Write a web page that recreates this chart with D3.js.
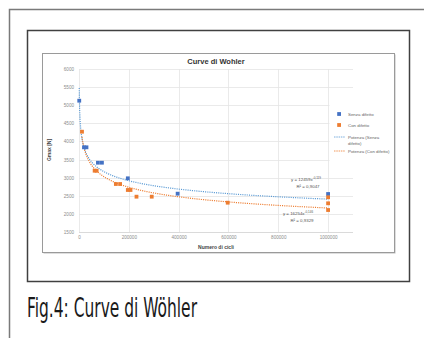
<!DOCTYPE html>
<html><head><meta charset="utf-8">
<script src="https://cdn.jsdelivr.net/npm/d3@7"></script>
<style>body{margin:0;background:#fff}svg{display:block}</style>
</head><body>
<script>
// ---- data ----
const seriesNames = ["Senza difetto", "Con difetto"];
const trendNames = ["Potenza (Senza difetto)", "Potenza (Con difetto)"];
const senzaX = [1000, 20000, 30000, 76000, 92000, 196000, 396000, 1000000];
const senzaY = [5125, 3838, 3838, 3413, 3413, 2982, 2558, 2549];
const conX = [12000, 62800, 70800, 148000, 165000, 196000, 206800, 230800, 292000, 597000, 1000000, 1000000, 1000000];
const conY = [4269, 3192, 3192, 2825, 2825, 2660, 2660, 2475, 2475, 2309, 2458, 2292, 2107];
const trendCoef = [12459, 16254];
const trendExp = [-0.119, -0.146];
const trendR2 = ["0,9047", "0,9329"];
const xTicks = [0, 200000, 400000, 600000, 800000, 1000000];
const yTicks = [1500, 2000, 2500, 3000, 3500, 4000, 4500, 5000, 5500, 6000];
const colors = ["#4472C4", "#ED7D31"];
const trendColors = ["#5B9BD5", "#ED7D31"];

const W = 424, H = 338;
const svg = d3.select("body").append("svg").attr("width", W).attr("height", H);
const font = "'Liberation Sans', Arial, sans-serif";

// outer frame
svg.append("path").attr("d", "M9.5,338 V9.5 H424").attr("fill", "none").attr("stroke", "#7a7a7a").attr("stroke-width", 1.5);
// inner frame
svg.append("rect").attr("x", 27.5).attr("y", 30.5).attr("width", 382).attr("height", 251)
  .attr("fill", "#fff").attr("stroke", "#404040").attr("stroke-width", 1.5);
// chart area with shadow
svg.append("rect").attr("x", 43.5).attr("y", 54.5).attr("width", 352).attr("height", 199).attr("fill", "#bdbdbd");
svg.append("rect").attr("x", 42.5).attr("y", 53.5).attr("width", 352).attr("height", 199)
  .attr("fill", "#fff").attr("stroke", "#9a9a9a").attr("stroke-width", 1);

// caption
svg.append("text").attr("x", 27).attr("y", 317).text("Fig.4: Curve di Wöhler")
  .attr("font-family", "'DejaVu Sans Condensed', 'Liberation Sans Narrow', sans-serif")
  .attr("font-size", 26).attr("fill", "#1a1a1a")
  .attr("textLength", 170).attr("lengthAdjust", "spacingAndGlyphs");

// scales
const x = d3.scaleLinear().domain([0, 1100000]).range([79, 353]);
const y = d3.scaleLinear().domain([1500, 6000]).range([232, 69]);

// gridlines
const g = svg.append("g");
g.selectAll(".hg").data(yTicks).join("line")
  .attr("x1", x(0)).attr("x2", x(1100000)).attr("y1", d => Math.round(y(d)) + 0.5).attr("y2", d => Math.round(y(d)) + 0.5)
  .attr("stroke", d => d === 1500 ? "#d0d0d0" : "#e4e4e4").attr("stroke-width", 0.8);
g.selectAll(".vg").data(xTicks).join("line")
  .attr("y1", y(1500)).attr("y2", y(6000)).attr("x1", d => Math.round(x(d)) + 0.5).attr("x2", d => Math.round(x(d)) + 0.5)
  .attr("stroke", "#e4e4e4").attr("stroke-width", 0.8);

// axes labels via d3 axes
const fmt = d3.format("d");
const xAxis = svg.append("g").attr("transform", `translate(0,${y(1500)})`)
  .call(d3.axisBottom(x).tickValues(xTicks).tickSize(0).tickPadding(4).tickFormat(fmt));
const yAxis = svg.append("g").attr("transform", `translate(${x(0)},0)`)
  .call(d3.axisLeft(y).tickValues(yTicks).tickSize(0).tickPadding(5).tickFormat(fmt));
[xAxis, yAxis].forEach(a => {
  a.select(".domain").remove();
  a.selectAll("text").attr("font-family", font).attr("font-size", 4.6).attr("fill", "#8c8c8c");
});

// title and axis titles
svg.append("text").attr("x", 216).attr("y", 63.5).attr("text-anchor", "middle").text("Curve di Wohler")
  .attr("font-family", font).attr("font-size", 7.5).attr("font-weight", "bold").attr("fill", "#333");
svg.append("text").attr("x", 216).attr("y", 249).attr("text-anchor", "middle").text("Numero di cicli")
  .attr("font-family", font).attr("font-size", 5).attr("font-weight", "bold").attr("fill", "#444");
svg.append("text").attr("transform", "translate(51,150) rotate(-90)").attr("text-anchor", "middle").text("Gmax [N]")
  .attr("font-family", font).attr("font-size", 5).attr("font-weight", "bold").attr("fill", "#444");

// trendlines
const seriesX = [senzaX, conX], seriesY = [senzaY, conY];
[0, 1].forEach(i => {
  const lo = Math.log(d3.min(seriesX[i])), hi = Math.log(d3.max(seriesX[i]));
  const xs = d3.range(0, 301).map(k => Math.exp(lo + (hi - lo) * k / 300));
  const line = d3.line().x(d => x(d)).y(d => y(trendCoef[i] * Math.pow(d, trendExp[i])));
  svg.append("path").datum(xs).attr("d", line).attr("fill", "none")
    .attr("stroke", trendColors[i]).attr("stroke-width", 1.2).attr("stroke-dasharray", "1.1,1.1");
});

// points
[0, 1].forEach(i => {
  svg.append("g").selectAll("rect").data(d3.zip(seriesX[i], seriesY[i])).join("rect")
    .attr("x", d => x(d[0]) - 1.9).attr("y", d => y(d[1]) - 1.9).attr("width", 3.8).attr("height", 3.8)
    .attr("fill", colors[i]);
});

// equation labels
const eqPos = [[306, 181, 308, 187.5], [298, 215, 302, 221.5]];
[0, 1].forEach(i => {
  const t = svg.append("text").attr("x", eqPos[i][0]).attr("y", eqPos[i][1]).attr("text-anchor", "middle")
    .attr("font-family", font).attr("font-size", 4.4).attr("fill", "#555");
  t.append("tspan").text(`y = ${trendCoef[i]}x`);
  t.append("tspan").attr("dy", -1.6).attr("font-size", 3).text(String(trendExp[i]).replace(".", ","));
  svg.append("text").attr("x", eqPos[i][2]).attr("y", eqPos[i][3]).attr("text-anchor", "middle")
    .attr("font-family", font).attr("font-size", 4.4).attr("fill", "#555").text(`R² = ${trendR2[i]}`);
});

// legend
const lg = svg.append("g");
lg.append("rect").attr("x", 329.5).attr("y", 104).attr("width", 64).attr("height", 72).attr("fill", "#fff");
const legItems = [
  {type: "pt", c: colors[0], lines: [seriesNames[0]], y: 114},
  {type: "pt", c: colors[1], lines: [seriesNames[1]], y: 125},
  {type: "ln", c: trendColors[0], lines: ["Potenza (Senza", "difetto)"], y: 137},
  {type: "ln", c: trendColors[1], lines: [trendNames[1]], y: 151}
];
legItems.forEach(it => {
  if (it.type === "pt") {
    lg.append("rect").attr("x", 337.2).attr("y", it.y - 1.9).attr("width", 3.8).attr("height", 3.8).attr("fill", it.c);
  } else {
    lg.append("line").attr("x1", 334).attr("x2", 345).attr("y1", it.y).attr("y2", it.y)
      .attr("stroke", it.c).attr("stroke-width", 0.8).attr("stroke-dasharray", "1.5,0.8");
  }
  it.lines.forEach((s, k) => {
    lg.append("text").attr("x", 348).attr("y", it.y + 1.5 + k * 6.5).text(s)
      .attr("font-family", font).attr("font-size", 4.4).attr("fill", "#666");
  });
});
</script>
</body></html>
